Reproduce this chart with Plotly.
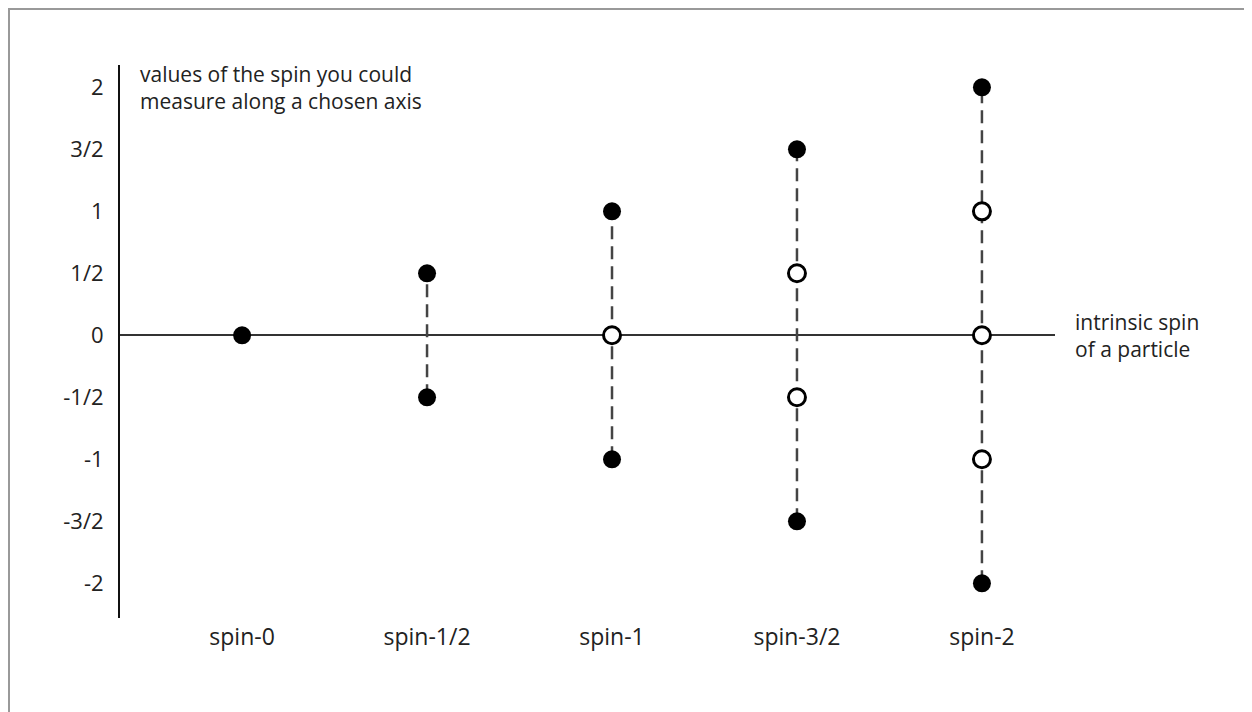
import plotly.graph_objects as go

categories = ["spin-0", "spin-1/2", "spin-1", "spin-3/2", "spin-2"]
cat_index = [0, 1, 2, 3, 4]
# measurable spin values per particle type; filled = extreme values, open = intermediate
filled_x = [0, 1, 1, 2, 2, 3, 3, 4, 4]
filled_y = [0, 0.5, -0.5, 1, -1, 1.5, -1.5, 2, -2]
open_x = [2, 3, 3, 4, 4, 4]
open_y = [0, 0.5, -0.5, 1, 0, -1]
range_low = [0, -0.5, -1, -1.5, -2]
range_high = [0, 0.5, 1, 1.5, 2]
ytick_vals = [2, 1.5, 1, 0.5, 0, -0.5, -1, -1.5, -2]
ytick_text = ["2", "3/2", "1", "1/2", "0", "-1/2", "-1", "-3/2", "-2"]

FONT = "Open Sans"
TXT = "#222222"
W, H = 1252, 712
ML, MR, MT, MB = 112, 205, 57, 102
PW = W - ML - MR
PH = H - MT - MB


def px(x):
    return (x - ML) / PW


def py(y):
    return (MT + PH - y) / PH


fig = go.Figure()

for xi, lo, hi in zip(cat_index, range_low, range_high):
    if hi > lo:
        fig.add_trace(go.Scatter(
            x=[xi, xi], y=[lo, hi], mode="lines",
            line=dict(color="#444444", width=2.5, dash="13px,7px"),
            showlegend=False, hoverinfo="skip"))

fig.add_trace(go.Scatter(
    x=filled_x, y=filled_y, mode="markers",
    marker=dict(size=18, color="black", line=dict(color="black", width=0)),
    showlegend=False))
fig.add_trace(go.Scatter(
    x=open_x, y=open_y, mode="markers",
    marker=dict(size=17, color="white", line=dict(color="black", width=3)),
    showlegend=False))

fig.update_layout(
    width=W, height=H,
    margin=dict(l=ML, r=MR, t=MT, b=MB),
    paper_bgcolor="white", plot_bgcolor="white",
    font=dict(family=FONT, size=22, color=TXT),
    xaxis=dict(range=[-0.66, 4.395], tickmode="array", tickvals=cat_index,
               ticktext=categories, showgrid=False, zeroline=False,
               showline=False, ticks="", ticklabelstandoff=3,
               tickfont=dict(size=23, color=TXT)),
    yaxis=dict(range=[-2.28, 2.18], tickmode="array", tickvals=ytick_vals,
               ticktext=ytick_text, showgrid=False, zeroline=True,
               zerolinecolor="#333333", zerolinewidth=2,
               showline=True, linecolor="#111111", linewidth=2,
               ticks="", ticklabelstandoff=10, tickfont=dict(size=22, color=TXT)),
    annotations=[
        dict(xref="paper", yref="paper", x=px(130), y=py(79),
             text="values of the spin you could<br>measure along a chosen axis",
             showarrow=False, xanchor="left", yanchor="middle", align="left",
             font=dict(size=21, family=FONT, color=TXT)),
        dict(xref="paper", yref="y", x=px(1065), y=0,
             text="intrinsic spin<br>of a particle",
             showarrow=False, xanchor="left", yanchor="middle", align="left",
             font=dict(size=21, family=FONT, color=TXT)),
    ],
    shapes=[
        dict(type="line", xref="paper", yref="paper", x0=px(0), x1=px(W),
             y0=py(1), y1=py(1), line=dict(color="#999999", width=2)),
        dict(type="line", xref="paper", yref="paper", x0=px(1), x1=px(1),
             y0=py(0), y1=py(H), line=dict(color="#999999", width=2)),
    ],
)

fig.write_html("out.html")
